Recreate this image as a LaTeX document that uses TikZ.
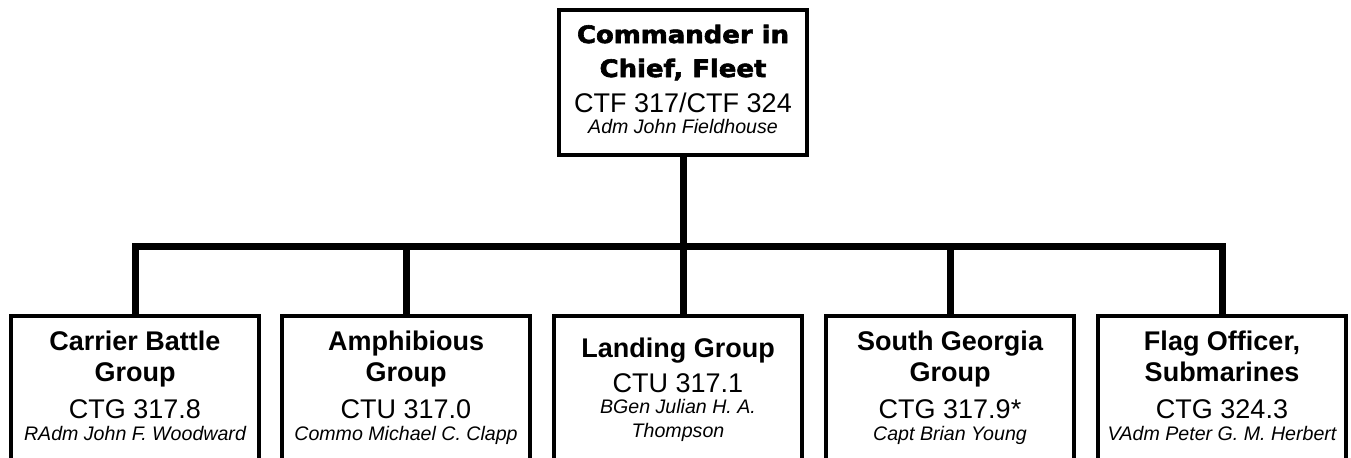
\documentclass[tikz,border=0pt]{standalone}
\usepackage{fontspec}
\setmainfont{Liberation Sans}
\newfontfamily\heavyfont{DejaVu Sans}[FakeStretch=1.08, FakeBold=2.5]
\usepackage{tikz}

\newcommand{\heavy}[1]{{\heavyfont\bfseries\fontsize{18}{22}\selectfont #1}}
\newcommand{\grp}[1]{{\bfseries #1}}
\newcommand{\who}[1]{{\fontsize{14.7}{17}\selectfont\itshape #1}}

\begin{document}
\begin{tikzpicture}[x=0.75pt, y=-0.75pt,
    unitbox/.style={draw, line width=3pt, minimum width=186pt, inner sep=0pt},
    link/.style={line width=5.25pt, line join=miter},
    caption/.style={anchor=base, align=center, inner sep=0pt,
        font=\fontsize{20.25}{23.25}\selectfont}]
    \useasboundingbox (0,0) rectangle (1351,457);
    \clip (0,0) rectangle (1351,457);

    % boxes
    \node[unitbox, minimum height=109pt, anchor=north] (cinc) at (683,8) {};
    \node[unitbox, minimum height=128pt, anchor=north] (cbg) at (135,314) {};
    \node[unitbox, minimum height=128pt, anchor=north] (amg) at (406,314) {};
    \node[unitbox, minimum height=128pt, anchor=north] (lg) at (678,314) {};
    \node[unitbox, minimum height=128pt, anchor=north] (sgg) at (950,314) {};
    \node[unitbox, minimum height=128pt, anchor=north] (fos) at (1222,314) {};

    % texts (base = last line)
    \node[caption, font=\fontsize{20.25}{25.5}\selectfont] (cinct) at (683,133)
        {\heavy{Commander in}\\\heavy{Chief, Fleet}\\[0.75pt] CTF 317/CTF 324\\[-9.75pt] \who{Adm John Fieldhouse}};
    \node[caption] (cbgt) at (135,440)
        {\grp{Carrier Battle}\\\grp{Group}\\[4.5pt] CTG 317.8\\[-6.75pt] \who{RAdm John F. Woodward}};
    \node[caption] (amgt) at (406,440)
        {\grp{Amphibious}\\\grp{Group}\\[4.5pt] CTU 317.0\\[-6.75pt] \who{Commo Michael C. Clapp}};
    \node[caption] (lgt) at (678,437)
        {\grp{Landing Group}\\[3pt] CTU 317.1\\[-7.5pt] \who{BGen Julian H. A.}\\[-5.25pt] \who{Thompson}};
    \node[caption] (sggt) at (950,440)
        {\grp{South Georgia}\\\grp{Group}\\[4.5pt] CTG 317.9*\\[-6.75pt] \who{Capt Brian Young}};
    \node[caption] (fost) at (1222,440)
        {\grp{Flag Officer,}\\\grp{Submarines}\\[4.5pt] CTG 324.3\\[-6.75pt] \who{VAdm Peter G. M. Herbert}};

    % connectors
    \coordinate (bar) at (683,246.5);
    \draw[link] (cbg.north) -- (cbg.north |- bar) -- (fos.north |- bar) -- (fos.north);
    \draw[link] (cinc.south) -- (cinc.south |- lg.north);
    \foreach \u in {amg, sgg}
        \draw[link] (\u.north) -- (\u.north |- bar);
\end{tikzpicture}
\end{document}
